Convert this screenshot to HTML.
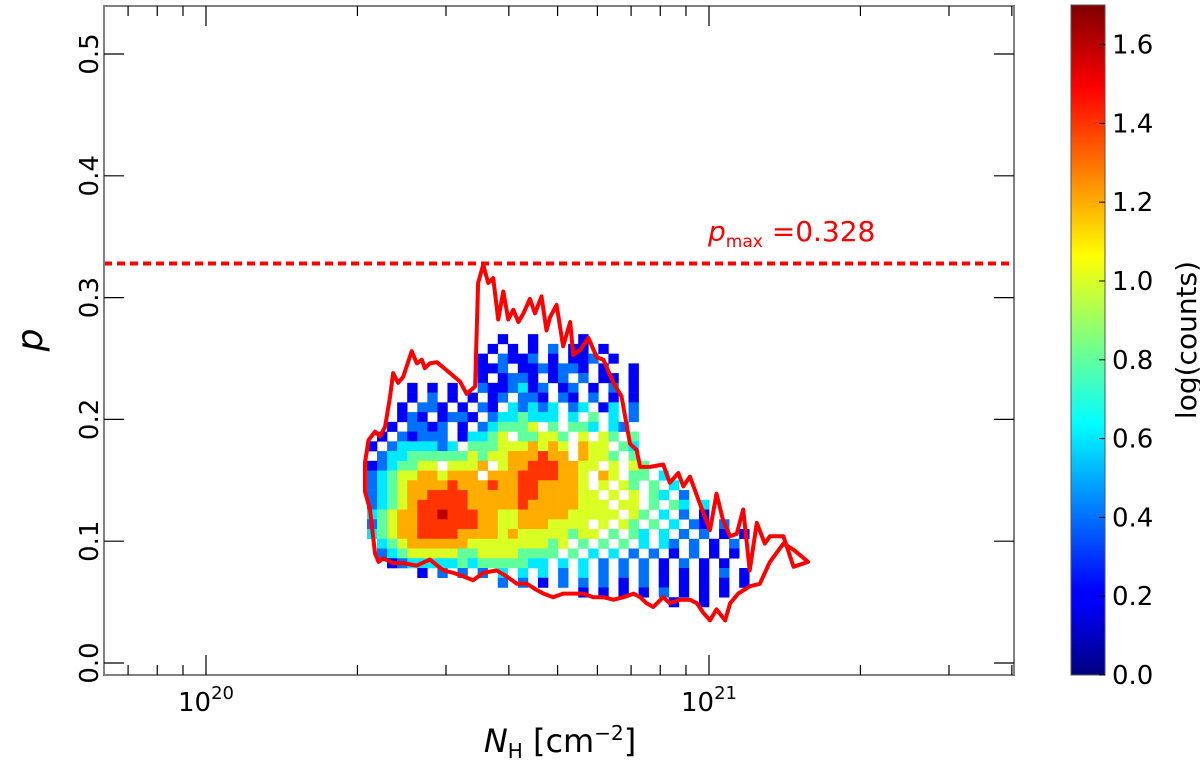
<!DOCTYPE html>
<html><head><meta charset="utf-8"><style>
html,body{margin:0;padding:0;background:#fff;}
svg{display:block;}
text{font-family:"DejaVu Sans","Liberation Sans",sans-serif;}
</style></head><body>
<svg id="chart" xmlns="http://www.w3.org/2000/svg" width="1200" height="769" viewBox="0 0 1200 769">
<defs>
<linearGradient id="jet" x1="0" y1="1" x2="0" y2="0">
<stop offset="0" stop-color="#00007f"/><stop offset="0.11" stop-color="#0000ff"/><stop offset="0.125" stop-color="#0000ff"/>
<stop offset="0.375" stop-color="#00ffff"/><stop offset="0.625" stop-color="#ffff00"/><stop offset="0.875" stop-color="#ff0000"/><stop offset="1" stop-color="#7f0000"/>
</linearGradient>
</defs>
<g id="heat"></g>
<g id="marks"></g>
<g id="axes"></g>
<rect x="1071" y="5" width="34" height="670" fill="url(#jet)" stroke="#555" stroke-width="1"/>
<g id="cbticks"></g>
<text transform="translate(1196,340) rotate(-90)" text-anchor="middle" font-size="28" font-family="Liberation Serif,serif">log(counts)</text>
<text x="560" y="752" text-anchor="middle" font-size="32" font-family="Liberation Serif,serif"><tspan font-style="italic">N</tspan><tspan font-size="20" dy="6">H</tspan><tspan dy="-6"> [cm</tspan><tspan font-size="20" dy="-12">−2</tspan><tspan dy="12">]</tspan></text>
<text transform="translate(42,340) rotate(-90)" text-anchor="middle" font-size="36" font-style="italic" font-family="Liberation Serif,serif">p</text>
<text x="708" y="241" fill="#ff0000" font-size="28" font-family="Liberation Serif,serif"><tspan font-style="italic">p</tspan><tspan font-size="17" dy="6">max</tspan><tspan dy="-6"> =0.328</tspan></text>
</svg>
<script>
const pMax = 0.328;
const cbTicks = [0.0,0.2,0.4,0.6,0.8,1.0,1.2,1.4,1.6];
const yTicks = [0.0,0.1,0.2,0.3,0.4,0.5];
const xMajor = [20,21];
// heatmap: rows from p=0.27 downward in steps of 0.008; columns from log N=20.32 in steps of 0.02; digit d -> log(counts)=0.2*d
const heatRows = [
"             1  1    1",
"            1 1 1 2 11 1",
"           1 2112 1 112 1",
"           112 1121221 1  1",
"           1 1221 12 2 11 1",
"    1 1 1  2112312 12 1 2 1",
"    1 2 1 1 12 221 21 2 1 1",
"   1 221 1 21 32323 23 13 2",
"   121 1221 2334333 3 4 3 2",
"  1 2212 1 234445 4 443 32",
" 1 21222 13345 44554 5 54 4",
"1 2333323 4445556565 655 43",
" 2334444445455666766 6554 4",
"1234455 5556 5667776655 5 54",
"23455665666 6667777665 65 44 3",
"2345666676667667766665 5 54 4 3",
"23456677776666677666655 5 5 43 2",
"234567777766666766666555 55 4 43 3",
"3456677877766556666655555 54 3 2 1",
"2456677777766556665555 5 54 4 3 21 2",
"34566777766665655555455 4 43 3 2 2 1 1",
" 3456666665555555545 4 4 4 3 32 2 1 2",
" 234555554455554444 4 3 3 2 2 1 2 1 1",
"  1233333434444433 3 3 2 2 2 1 2 1 1 ",
"     1 2 2 2 3 3 3 2 3 2 2 2 1 1 1 2 1",
"             2 2 1 2 2 2 1 2 1 1 1 1 1",
"                     1 1 1 1 2 1 1 1",
"                              1  1"];
const heatLogN0 = 20.32, heatDLogN = 0.02, heatP0 = 0.27, heatDP = 0.008, heatStep = 0.2;
const contourLogN = [20.316,20.323,20.336,20.346,20.356,20.366,20.372,20.382,20.392,20.409,20.419,20.429,20.435,20.445,20.459,20.485,20.505,20.518,20.535,20.541,20.551,20.561,20.571,20.581,20.591,20.601,20.611,20.621,20.631,20.644,20.654,20.667,20.677,20.684,20.697,20.710,20.724,20.730,20.744,20.760,20.777,20.790,20.810,20.826,20.843,20.856,20.863,20.883,20.909,20.922,20.939,20.949,20.962,20.979,20.989,21.002,21.015,21.028,21.042,21.055,21.068,21.081,21.095,21.111,21.121,21.148,21.168,21.197,21.168,21.148,21.121,21.101,21.081,21.058,21.042,21.032,21.015,21.002,20.989,20.976,20.962,20.942,20.922,20.909,20.889,20.876,20.863,20.850,20.830,20.810,20.790,20.770,20.750,20.730,20.710,20.690,20.671,20.657,20.638,20.618,20.598,20.578,20.551,20.531,20.512,20.492,20.472,20.445,20.419,20.392,20.372,20.352,20.343,20.336,20.326,20.316];
const contourP = [0.164,0.183,0.190,0.186,0.194,0.219,0.238,0.230,0.235,0.256,0.246,0.249,0.242,0.246,0.247,0.238,0.231,0.221,0.227,0.312,0.327,0.312,0.316,0.282,0.305,0.282,0.290,0.280,0.287,0.299,0.287,0.301,0.273,0.284,0.294,0.260,0.280,0.253,0.257,0.267,0.251,0.249,0.230,0.219,0.180,0.175,0.161,0.161,0.163,0.148,0.156,0.145,0.153,0.134,0.123,0.109,0.139,0.117,0.104,0.106,0.126,0.076,0.115,0.098,0.104,0.104,0.079,0.083,0.093,0.098,0.083,0.065,0.063,0.057,0.049,0.035,0.044,0.035,0.041,0.049,0.052,0.052,0.049,0.054,0.046,0.049,0.054,0.057,0.054,0.052,0.054,0.054,0.057,0.057,0.057,0.054,0.057,0.060,0.065,0.065,0.071,0.076,0.074,0.068,0.071,0.074,0.076,0.085,0.080,0.082,0.082,0.086,0.083,0.090,0.126,0.141];

const NS='http://www.w3.org/2000/svg';
const L=104,R=1014,T=6,B=675;
const xs = lg => 206 + (lg-20)*503;
const ys = p => 663 - p*1218;
const cbY = v => 675 - v*394;
function jet(t){
  const c=v=>Math.max(0,Math.min(1,v));
  const r=c(1.5-Math.abs(4*t-3)),g=c(1.5-Math.abs(4*t-2)),b=c(1.5-Math.abs(4*t-1));
  return `rgb(${Math.round(r*255)},${Math.round(g*255)},${Math.round(b*255)})`;
}
function mk(tag,attrs,parent){const e=document.createElementNS(NS,tag);for(const k in attrs)e.setAttribute(k,attrs[k]);parent.appendChild(e);return e;}

const heat=document.getElementById('heat');
heatRows.forEach((row,r)=>{
  for(let c=0;c<row.length;c++){
    const ch=row[c]; if(ch===' ')continue;
    const v=parseInt(ch)*heatStep;
    const x0=xs(heatLogN0+c*heatDLogN), x1=xs(heatLogN0+(c+1)*heatDLogN);
    const y0=ys(heatP0-r*heatDP), y1=ys(heatP0-(r+1)*heatDP);
    const e=mk('rect',{x:x0,y:y0,width:x1-x0+0.3,height:y1-y0+0.3,fill:jet(v/1.7)},heat);
    
    
  }
});

const marks=document.getElementById('marks');
const pts=contourLogN.map((lg,i)=>xs(lg).toFixed(1)+','+ys(contourP[i]).toFixed(1)).join(' ');
const poly=mk('polygon',{points:pts,fill:'none',stroke:'#ff0000','stroke-width':4,'stroke-linejoin':'round'},marks);


const pl=mk('line',{x1:L,x2:R,y1:ys(pMax),y2:ys(pMax),stroke:'#ff0000','stroke-width':4,'stroke-dasharray':'8,5'},marks);



const ax=document.getElementById('axes');
const fr=mk('rect',{x:L,y:T,width:R-L,height:B-T,fill:'none',stroke:'#808080','stroke-width':2},ax);


yTicks.forEach(v=>{
  const y=ys(v);
  mk('line',{x1:L,x2:L+20,y1:y,y2:y,stroke:'#000','stroke-width':1.2},ax);
  mk('line',{x1:R-20,x2:R,y1:y,y2:y,stroke:'#000','stroke-width':1.2},ax);
  const t=mk('text',{transform:`translate(98,${y}) rotate(-90)`,'text-anchor':'middle','font-size':26},ax);
  t.textContent=v.toFixed(1);
  
  
});
for(let dec=19;dec<=21;dec++){
  for(let m=1;m<=9;m++){
    const lg=dec+Math.log10(m); const x=xs(lg);
    if(x<L+1||x>R-1)continue;
    const len=m===1?20:10;
    mk('line',{x1:x,x2:x,y1:B,y2:B-len,stroke:'#000','stroke-width':1.2},ax);
    mk('line',{x1:x,x2:x,y1:T,y2:T+len,stroke:'#000','stroke-width':1.2},ax);
  }
}
xMajor.forEach(lg=>{
  const x=xs(lg);
  const t=mk('text',{x:x,y:711,'text-anchor':'middle','font-size':26},ax);
  t.innerHTML=`10<tspan font-size="18" dy="-12">${lg}</tspan>`;
  
  
});
const cbt=document.getElementById('cbticks');
cbTicks.forEach(v=>{
  const y=cbY(v);
  mk('line',{x1:1099,x2:1105,y1:y,y2:y,stroke:'#000','stroke-width':1},cbt);
  const t=mk('text',{x:1112,y:y+9,'font-size':26},cbt);
  t.textContent=v.toFixed(1);
  
  
});
</script>
</body></html>
